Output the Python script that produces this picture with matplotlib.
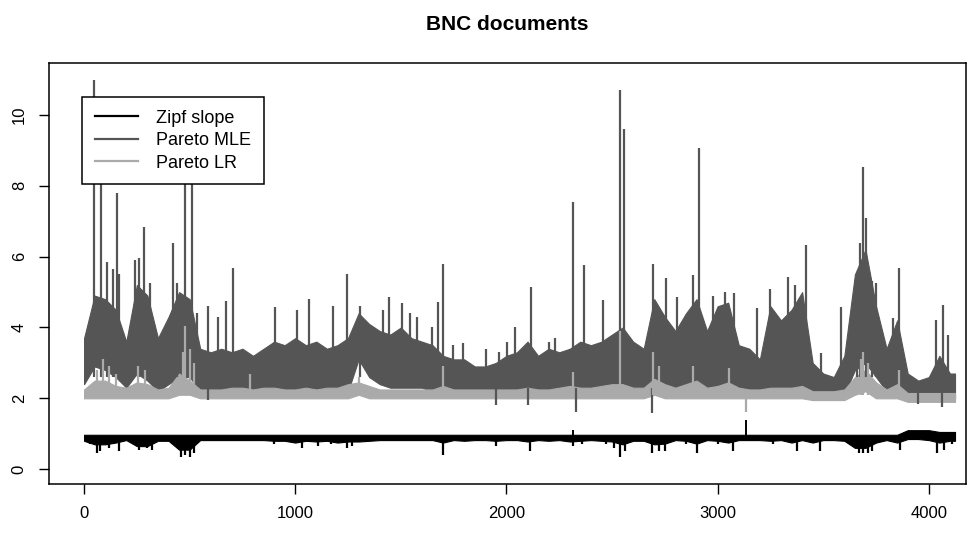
import numpy as np
import matplotlib
matplotlib.use("Agg")
import matplotlib.pyplot as plt
from matplotlib.lines import Line2D

plt.rcParams["font.family"] = ["Liberation Sans", "DejaVu Sans"]

# document index (start of each 50-document block); series run to doc 4124
bin_start = list(range(0, 4101, 50))
last_doc = 4124

# Pareto MLE: dense band (upper / lower) per block
mle_hi = [3.7, 4.9, 4.8, 4.5, 3.6, 5.2, 4.9, 3.7, 4.3, 5.0, 4.8, 3.4, 3.3, 3.4, 3.3, 3.4,
          3.2, 3.4, 3.6, 3.5, 3.7, 3.5, 3.6, 3.4, 3.5, 3.7, 4.4, 4.1, 3.9, 3.8, 4.0, 3.7,
          3.6, 3.5, 3.2, 3.1, 3.1, 2.9, 2.9, 3.0, 3.2, 3.3, 3.6, 3.2, 3.4, 3.3, 3.4, 3.6,
          3.5, 3.6, 3.8, 4.0, 3.6, 3.4, 4.8, 4.3, 3.9, 4.4, 4.8, 3.9, 4.6, 4.7, 3.5, 3.4,
          3.1, 4.6, 4.2, 4.5, 5.0, 3.0, 2.7, 2.6, 3.2, 5.5, 6.2, 4.6, 3.4, 4.2, 2.7, 2.5,
          2.6, 3.2, 2.7]
mle_lo = [2.4, 2.9, 2.8, 2.6, 2.3, 2.7, 2.5, 2.2, 2.4, 2.6, 2.6, 2.2, 2.2, 2.2, 2.2, 2.2,
          2.2, 2.2, 2.2, 2.2, 2.2, 2.2, 2.2, 2.2, 2.2, 2.2, 3.1, 2.6, 2.4, 2.3, 2.3, 2.3,
          2.3, 2.2, 2.2, 2.2, 2.2, 2.2, 2.1, 2.1, 2.2, 2.2, 2.2, 2.2, 2.2, 2.2, 2.2, 2.2,
          2.2, 2.2, 2.2, 2.3, 2.2, 2.2, 2.4, 2.3, 2.2, 2.3, 2.3, 2.2, 2.3, 2.3, 2.2, 2.2,
          2.2, 2.3, 2.3, 2.3, 2.3, 2.1, 2.0, 2.0, 2.1, 2.8, 3.0, 2.6, 2.2, 2.3, 2.0, 2.0,
          1.95, 2.0, 2.0]

# Pareto MLE single-document peaks and dips
mle_peak_x = [48, 79, 108, 138, 154, 165, 240, 260, 283, 310, 422, 440, 476, 512, 533,
              588, 635, 670, 705, 904, 1008, 1065, 1179, 1245, 1307, 1415, 1444, 1505,
              1543, 1576, 1647, 1677, 1700, 1747, 1795, 1905, 1966, 2001, 2040, 2117,
              2200, 2230, 2316, 2368, 2457, 2538, 2557, 2694, 2755, 2807, 2860, 2884,
              2912, 2979, 3035, 3078, 3187, 3248, 3333, 3366, 3418, 3490, 3584, 3661,
              3672, 3690, 3703, 3731, 3750, 3830, 3860, 4034, 4067, 4091]
mle_peak_y = [11.0, 9.5, 5.85, 5.65, 7.8, 5.5, 5.9, 5.95, 6.85, 5.25, 6.4, 5.25, 10.2, 9.0,
              4.4, 4.6, 4.3, 4.75, 5.68, 4.58, 4.5, 4.8, 4.6, 5.5, 4.6, 4.5, 4.85, 4.7,
              4.4, 4.3, 4.0, 4.73, 5.78, 3.5, 3.55, 3.4, 3.3, 3.6, 4.0, 5.15,
              3.6, 3.7, 7.55, 5.76, 4.77, 10.7, 9.6, 5.78, 5.4, 4.87, 4.2, 5.48,
              9.07, 4.9, 5.0, 4.97, 4.55, 5.1, 5.42, 5.2, 6.33, 3.27, 4.58, 5.4,
              6.4, 8.52, 7.1, 5.3, 5.25, 4.27, 5.68, 4.2, 4.63, 3.78]
mle_dip_x = [588, 1950, 2100, 2330, 2690, 3950, 4060]
mle_dip_y = [1.95, 1.8, 1.8, 1.6, 1.58, 1.85, 1.75]

# Pareto LR band
lr_hi = [2.25, 2.5, 2.5, 2.35, 2.3, 2.45, 2.4, 2.25, 2.3, 2.7, 2.5, 2.25, 2.25, 2.25, 2.3,
         2.3, 2.25, 2.3, 2.3, 2.25, 2.25, 2.3, 2.25, 2.3, 2.3, 2.4, 2.45, 2.35, 2.25, 2.25,
         2.25, 2.25, 2.25, 2.25, 2.35, 2.25, 2.25, 2.25, 2.25, 2.25, 2.25, 2.25, 2.3, 2.25,
         2.25, 2.3, 2.35, 2.3, 2.3, 2.35, 2.4, 2.4, 2.3, 2.3, 2.55, 2.4, 2.3, 2.4, 2.5, 2.3,
         2.35, 2.45, 2.3, 2.25, 2.25, 2.3, 2.3, 2.3, 2.35, 2.2, 2.2, 2.2, 2.25, 2.6, 2.8,
         2.45, 2.25, 2.4, 2.15, 2.15, 2.15, 2.15, 2.15]
lr_lo = [2.0, 2.0, 2.0, 2.0, 2.0, 2.0, 2.0, 2.0, 2.0, 2.1, 2.1, 2.0, 2.0, 2.0, 2.0, 2.0,
         2.0, 2.0, 2.0, 2.0, 2.0, 2.0, 2.0, 2.0, 2.0, 2.0, 2.1, 2.0, 2.0, 2.0, 2.0, 2.0,
         2.0, 2.0, 2.0, 2.0, 2.0, 2.0, 2.0, 2.0, 2.0, 2.0, 2.0, 2.0, 2.0, 2.0, 2.0, 2.0,
         2.0, 2.0, 2.0, 2.0, 2.0, 2.0, 2.1, 2.0, 2.0, 2.0, 2.0, 2.0, 2.0, 2.0, 2.0, 2.0,
         2.0, 2.0, 2.0, 2.0, 2.0, 1.95, 1.95, 1.95, 1.95, 2.1, 2.2, 2.0, 2.0, 2.0, 1.9, 1.9,
         1.9, 1.9, 1.9]
lr_peak_x = [60, 90, 120, 150, 255, 290, 470, 480, 500, 520, 786, 1300, 1700, 2316, 2540,
             2694, 2720, 2884, 3055, 3680, 3690, 3710, 3860]
lr_peak_y = [2.8, 3.1, 2.9, 2.7, 2.9, 2.8, 3.3, 4.05, 3.4, 3.0, 2.7, 2.6, 2.9, 2.75, 3.9,
             3.3, 2.9, 2.9, 2.85, 3.1, 3.3, 3.0, 2.8]
lr_dip_x = [3134]
lr_dip_y = [1.6]

# Zipf slope band and narrow dips
zipf_hi = [0.97] * 78 + [1.1, 1.1, 1.1, 1.05, 1.05]
zipf_lo = [0.8, 0.7, 0.7, 0.75, 0.82, 0.65, 0.65, 0.8, 0.8, 0.55, 0.55, 0.82, 0.82, 0.82,
           0.82, 0.82, 0.82, 0.82, 0.8, 0.8, 0.75, 0.8, 0.78, 0.8, 0.75, 0.78, 0.78, 0.8,
           0.82, 0.82, 0.82, 0.82, 0.82, 0.82, 0.75, 0.82, 0.8, 0.82, 0.82, 0.8, 0.82,
           0.82, 0.78, 0.82, 0.8, 0.82, 0.78, 0.8, 0.82, 0.8, 0.78, 0.7, 0.8, 0.8, 0.7,
           0.72, 0.82, 0.8, 0.72, 0.82, 0.8, 0.75, 0.82, 0.82, 0.82, 0.8, 0.82, 0.75, 0.82,
           0.75, 0.82, 0.82, 0.8, 0.6, 0.6, 0.75, 0.82, 0.75, 0.85, 0.85, 0.82, 0.75, 0.8]
zipf_dip_x = [30, 60, 75, 120, 165, 260, 300, 320, 460, 480, 500, 520, 900, 1030, 1110,
              1170, 1245, 1270, 1700, 1950, 2112, 2316, 2360, 2470, 2510, 2538, 2560, 2690,
              2720, 2750, 2850, 2903, 3000, 3073, 3260, 3375, 3485, 3620, 3670, 3690, 3710,
              3730, 3864, 4040, 4070, 4110]
zipf_dip_y = [0.7, 0.45, 0.5, 0.6, 0.5, 0.55, 0.6, 0.55, 0.35, 0.4, 0.35, 0.45, 0.7, 0.6,
              0.65, 0.7, 0.6, 0.65, 0.4, 0.65, 0.5, 0.65, 0.7, 0.7, 0.6, 0.34, 0.5, 0.45,
              0.5, 0.5, 0.7, 0.45, 0.7, 0.5, 0.7, 0.5, 0.5, 0.7, 0.45, 0.45, 0.45, 0.5,
              0.55, 0.45, 0.55, 0.7]
zipf_peak_x = [2316, 3134]
zipf_peak_y = [1.1, 1.38]

labels = ["Zipf slope", "Pareto MLE", "Pareto LR"]
colors = ["black", "#555555", "#aaaaaa"]

edges = bin_start + [last_doc]


def band(ax, hi, lo, color):
    ax.fill_between(edges, list(lo) + [lo[-1]], list(hi) + [hi[-1]],
                    color=color, lw=0.8, edgecolor=color)


fig = plt.figure(figsize=(9.77, 5.35), dpi=100)
ax = fig.add_axes([49 / 977, 1 - 484 / 535, 917 / 977, 421 / 535])

# Zipf first, then MLE, then LR on top (R drawing order)
band(ax, zipf_hi, zipf_lo, colors[0])
ax.vlines(zipf_dip_x, zipf_dip_y, 0.9, color=colors[0], lw=1.6)
ax.vlines(zipf_peak_x, 0.9, zipf_peak_y, color=colors[0], lw=1.4)

band(ax, mle_hi, mle_lo, colors[1])
ax.vlines(mle_peak_x, 2.6, mle_peak_y, color=colors[1], lw=1.6)
ax.vlines(mle_dip_x, mle_dip_y, 2.3, color=colors[1], lw=1.6)

band(ax, lr_hi, lr_lo, colors[2])
ax.vlines(lr_peak_x, 2.1, lr_peak_y, color=colors[2], lw=1.6)
ax.vlines(lr_dip_x, lr_dip_y, 2.1, color=colors[2], lw=1.6)

ax.set_xlim(-166, 4176)
ax.set_ylim(-0.42, 11.47)
ax.set_xticks([0, 1000, 2000, 3000, 4000])
ax.set_yticks([0, 2, 4, 6, 8, 10])
ax.tick_params(direction="out", length=7, width=1, labelsize=12, pad=9)
for lab in ax.get_yticklabels():
    lab.set_rotation(90)
    lab.set_va("center")
for sp in ax.spines.values():
    sp.set_linewidth(1.1)

ax.set_title("BNC documents", fontsize=15, fontweight="bold", pad=24)

handles = [Line2D([], [], color=c, lw=1.6) for c in colors]
leg = ax.legend(handles, labels, loc="upper left", bbox_to_anchor=(0.036, 0.919),
                borderaxespad=0, fancybox=False, framealpha=1, edgecolor="black",
                fontsize=13, handlelength=2.4, labelspacing=0.3, borderpad=0.7,
                handletextpad=1.0)
leg.get_frame().set_linewidth(1.1)

fig.savefig("out.png", dpi=100)
